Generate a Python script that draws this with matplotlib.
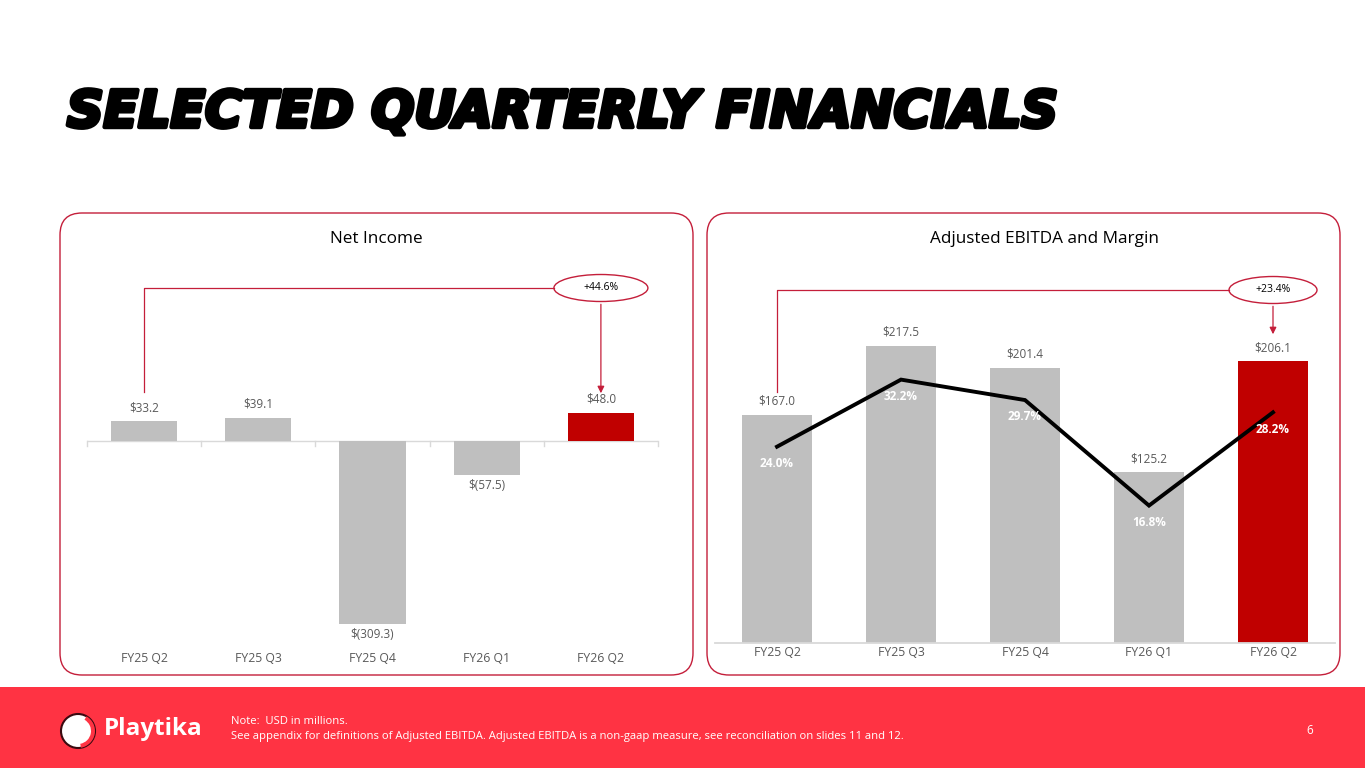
import matplotlib
matplotlib.use("Agg")
import matplotlib.pyplot as plt
from matplotlib.patches import FancyBboxPatch, Rectangle, Ellipse, Circle, Wedge
import matplotlib.patheffects as pe

# ---------------- data ----------------
quarters = ["FY25 Q2", "FY25 Q3", "FY25 Q4", "FY26 Q1", "FY26 Q2"]
net_income = [33.2, 39.1, -309.3, -57.5, 48.0]
ebitda = [167.0, 217.5, 201.4, 125.2, 206.1]
margin = [24.0, 32.2, 29.7, 16.8, 28.2]
ni_change = "+44.6%"
ebitda_change = "+23.4%"
title = "SELECTED QUARTERLY FINANCIALS"
panel_titles = ["Net Income", "Adjusted EBITDA and Margin"]
note_lines = ["Note:  USD in millions.",
              "See appendix for definitions of Adjusted EBITDA. Adjusted EBITDA is a non-gaap measure, see reconciliation on slides 11 and 12."]
page_no = "6"

GREY = "#BFBFBF"
RED = "#C00000"
BORDER = "#C41E3A"
TXT = "#595959"
AXIS = "#D9D9D9"
FOOT = "#FF3343"
FONT = "Open Sans"

W, H = 1365, 768
fig = plt.figure(figsize=(W / 100, H / 100), dpi=100)
bg = fig.add_axes([0, 0, 1, 1])
bg.set_xlim(0, W)
bg.set_ylim(H, 0)
bg.axis("off")


def fax(left, top, width, height):
    return fig.add_axes([left / W, 1 - (top + height) / H, width / W, height / H])


def to_px(ax, x, y):
    dx, dy = ax.transData.transform((x, y))
    return dx, H - dy


# title
bg.text(67, 113, title, fontsize=36.5, fontweight="bold", style="italic",
        family="DejaVu Sans", color="black", va="center", ha="left",
        path_effects=[pe.withStroke(linewidth=3.2, foreground="black")])

# panels
for x0 in (60, 707):
    bg.add_patch(FancyBboxPatch((x0, 213), 633, 462,
                                boxstyle="round,pad=0,rounding_size=22",
                                fc="white", ec=BORDER, lw=1.0, zorder=1))
bg.text(376, 239, panel_titles[0], fontsize=12.3, family=FONT, ha="center", va="center", color="black")
bg.text(1045, 239, panel_titles[1], fontsize=12.3, family=FONT, ha="center", va="center", color="black")

# footer
bg.add_patch(Rectangle((0, 687), W, 81, fc=FOOT, ec="none", zorder=1))
bg.add_patch(Circle((78, 731), 17, fc="white", ec="#3a0a10", lw=1.5, zorder=2))
bg.add_patch(Wedge((78, 731), 17, 300, 80, width=4, fc=FOOT, ec="none", zorder=3))
bg.text(104, 729, "Playtika", fontsize=17.5, fontweight="bold", family=FONT,
        color="white", ha="left", va="center", zorder=3)
bg.text(231, 721, note_lines[0], fontsize=8.1, family=FONT, color="white", ha="left", va="center")
bg.text(231, 737, note_lines[1], fontsize=8.1, family=FONT, color="white", ha="left", va="center")
bg.text(1310, 731, page_no, fontsize=8.5, family=FONT, color="white", ha="center", va="center")

# ---------------- Net income chart ----------------
scale_l = 0.592
ylo, yhi = -330, 70
top_l = 441 - yhi * scale_l
ax1 = fax(87, top_l, 571, (yhi - ylo) * scale_l)
ax1.patch.set_alpha(0)
xs = list(range(len(quarters)))
cols = [GREY] * (len(quarters) - 1) + [RED]
ax1.bar(xs, net_income, width=0.58, color=cols, zorder=2)
ax1.set_xlim(-0.5, len(quarters) - 0.5)
ax1.set_ylim(ylo, yhi)
ax1.axhline(0, color=AXIS, lw=1, zorder=1)
for s in ax1.spines.values():
    s.set_visible(False)
ax1.set_yticks([])
ax1.set_xticks([])
for i, v in enumerate(net_income):
    lab = f"${v:.1f}" if v >= 0 else f"$({-v:.1f})"
    if v >= 0:
        ax1.annotate(lab, (i, v), xytext=(0, 5), textcoords="offset points",
                     ha="center", va="bottom", fontsize=8.5, family=FONT, color=TXT)
    else:
        ax1.annotate(lab, (i, v), xytext=(0, -3), textcoords="offset points",
                     ha="center", va="top", fontsize=8.5, family=FONT, color=TXT)
# x labels and boundary ticks
for i, q in enumerate(quarters):
    px, _ = to_px(ax1, i, 0)
    bg.text(px, 658, q, fontsize=8.8, family=FONT, color=TXT, ha="center", va="center")
for i in range(len(quarters) + 1):
    px, py = to_px(ax1, i - 0.5, 0)
    bg.plot([px, px], [py, py + 5], color=AXIS, lw=1)

# connector annotation
x0p, _ = to_px(ax1, 0, 0)
x4p, _ = to_px(ax1, len(quarters) - 1, 0)
ey = 288
bg.plot([x0p, x0p, x4p - 47], [392, ey, ey], color=BORDER, lw=0.9)
bg.add_patch(Ellipse((x4p, ey), 94, 27, fc="white", ec=BORDER, lw=1.0))
bg.text(x4p, ey, ni_change, fontsize=7.5, family=FONT, ha="center", va="center", color="black")
bg.annotate("", xy=(x4p, 396), xytext=(x4p, ey + 13.5),
            arrowprops=dict(arrowstyle="-|>", color=BORDER, lw=0.9, mutation_scale=10))

# ---------------- EBITDA chart ----------------
scale_r = 1.366
ymax_r = 240
top_r = 643 - ymax_r * scale_r
ax2 = fax(715, top_r, 620, ymax_r * scale_r)
ax2.patch.set_alpha(0)
ax2.bar(xs, ebitda, width=0.565, color=cols, zorder=2)
ax2.set_xlim(-0.5, len(quarters) - 0.5)
ax2.set_ylim(0, ymax_r)
for s in ax2.spines.values():
    s.set_visible(False)
ax2.spines["bottom"].set_visible(True)
ax2.spines["bottom"].set_color(AXIS)
ax2.spines["bottom"].set_linewidth(1.3)
ax2.set_yticks([])
ax2.set_xticks([])
for i, v in enumerate(ebitda):
    ax2.annotate(f"${v:.1f}", (i, v), xytext=(0, 5), textcoords="offset points",
                 ha="center", va="bottom", fontsize=8.5, family=FONT, color=TXT)
ax3 = ax2.twinx()
ax3.set_ylim(0, 240 / 6.0 * 1.002)
ax3.plot(xs, margin, color="black", lw=2.8, zorder=4, solid_joinstyle="miter")
ax3.axis("off")
for i, m in enumerate(margin):
    ax3.annotate(f"{m:.1f}%", (i, m), xytext=(0, -7.5), textcoords="offset points",
                 ha="center", va="top", fontsize=8.5, fontweight="bold",
                 family=FONT, color="white", zorder=5)
for i, q in enumerate(quarters):
    px, _ = to_px(ax2, i, 0)
    bg.text(px, 653, q, fontsize=8.8, family=FONT, color=TXT, ha="center", va="center")

x0p, _ = to_px(ax2, 0, 0)
x4p, _ = to_px(ax2, len(quarters) - 1, 0)
ey = 290
bg.plot([x0p, x0p, x4p - 44], [392, ey, ey], color=BORDER, lw=0.9)
bg.add_patch(Ellipse((x4p, ey), 88, 27, fc="white", ec=BORDER, lw=1.0))
bg.text(x4p, ey, ebitda_change, fontsize=7.5, family=FONT, ha="center", va="center", color="black")
bg.annotate("", xy=(x4p, 337), xytext=(x4p, ey + 13.5),
            arrowprops=dict(arrowstyle="-|>", color=BORDER, lw=0.9, mutation_scale=10))

fig.savefig("out.png", dpi=100)
